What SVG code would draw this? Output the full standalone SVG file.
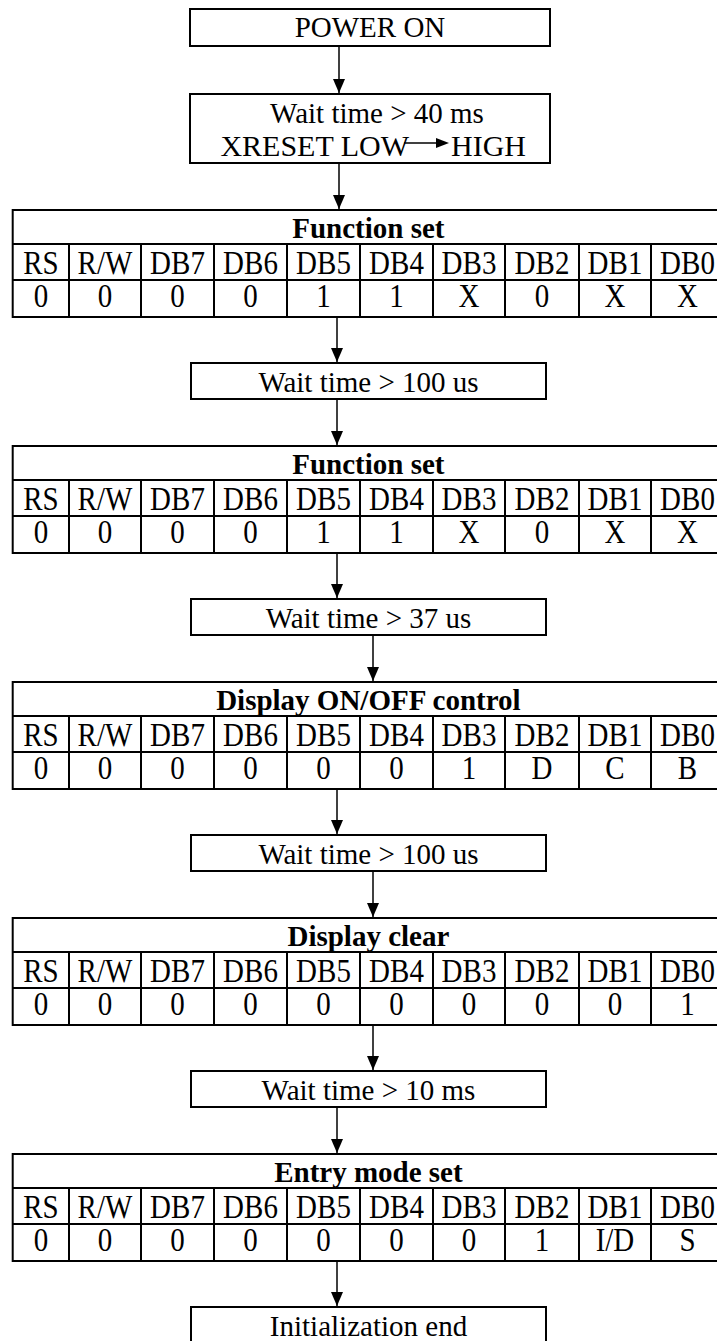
<svg xmlns="http://www.w3.org/2000/svg" width="717" height="1341" viewBox="0 0 717 1341">
<style>
.box{fill:#fff;stroke:#000;stroke-width:2}
.grid{fill:none;stroke:#000;stroke-width:2}
.t{font-family:"Liberation Serif","Times New Roman",serif;font-size:29px;fill:#000;text-anchor:middle}
.b{font-weight:bold}
.s{text-anchor:start}
.e{text-anchor:end}
.con{stroke:#000;stroke-width:1.5;fill:none}
</style>
<defs>
<marker id="ah" viewBox="0 0 14 12" refX="14" refY="6" markerWidth="14" markerHeight="12" markerUnits="userSpaceOnUse" orient="auto">
<path d="M0,0 L14,6 L0,12 z" fill="#000"/>
</marker>
<g id="hdr">
<g transform="translate(0,64) scale(1,1.15)">
<text class="t" x="40.9" y="0">RS</text><text class="t" x="105" y="0">R/W</text><text class="t" x="177.5" y="0">DB7</text><text class="t" x="250.5" y="0">DB6</text><text class="t" x="323.5" y="0">DB5</text><text class="t" x="396.5" y="0">DB4</text><text class="t" x="469" y="0">DB3</text><text class="t" x="542" y="0">DB2</text><text class="t" x="615" y="0">DB1</text><text class="t" x="687.5" y="0">DB0</text>
</g>
</g>
<g id="frame">
<rect class="box" x="12.7" y="0" width="711.3" height="107"/>
<path class="grid" d="M12.7,34H724M12.7,70H724M69,34V107M141,34V107M214,34V107M287,34V107M360,34V107M433,34V107M505,34V107M579,34V107M651,34V107"/>
</g>
</defs>

<g id="power-on">
<rect class="box" x="190" y="9" width="360" height="37"/>
<text class="t" x="370" y="37">POWER ON</text>
</g>

<g id="wait-40ms">
<rect class="box" x="190" y="94" width="360" height="69"/>
<text class="t" x="377" y="123">Wait time &gt; 40 ms</text>
<text class="t e" x="409" y="156" style="font-size:30px">XRESET LOW</text>
<line x1="404" y1="143" x2="438" y2="143" stroke="#000" stroke-width="1.5"/>
<path d="M436,138 L449,143 L436,148 z" fill="#000"/>
<text class="t s" x="451" y="156" style="font-size:30px">HIGH</text>
</g>

<g id="function-set-1" transform="translate(0,210)">
<use href="#frame"/>
<text class="t b" x="368.4" y="28">Function set</text>
<use href="#hdr"/>
<g transform="translate(0,97) scale(1,1.15)">
<text class="t" x="40.9" y="0">0</text><text class="t" x="105" y="0">0</text><text class="t" x="177.5" y="0">0</text><text class="t" x="250.5" y="0">0</text><text class="t" x="323.5" y="0">1</text><text class="t" x="396.5" y="0">1</text><text class="t" x="469" y="0">X</text><text class="t" x="542" y="0">0</text><text class="t" x="615" y="0">X</text><text class="t" x="687.5" y="0">X</text>
</g>
</g>

<g id="wait-100us-1">
<rect class="box" x="191" y="363" width="355" height="36"/>
<text class="t" x="368.5" y="392">Wait time &gt; 100 us</text>
</g>

<g id="function-set-2" transform="translate(0,446)">
<use href="#frame"/>
<text class="t b" x="368.4" y="28">Function set</text>
<use href="#hdr"/>
<g transform="translate(0,97) scale(1,1.15)">
<text class="t" x="40.9" y="0">0</text><text class="t" x="105" y="0">0</text><text class="t" x="177.5" y="0">0</text><text class="t" x="250.5" y="0">0</text><text class="t" x="323.5" y="0">1</text><text class="t" x="396.5" y="0">1</text><text class="t" x="469" y="0">X</text><text class="t" x="542" y="0">0</text><text class="t" x="615" y="0">X</text><text class="t" x="687.5" y="0">X</text>
</g>
</g>

<g id="wait-37us">
<rect class="box" x="191" y="599" width="355" height="36"/>
<text class="t" x="368.5" y="628">Wait time &gt; 37 us</text>
</g>

<g id="display-on-off" transform="translate(0,682)">
<use href="#frame"/>
<text class="t b" x="368.4" y="28">Display ON/OFF control</text>
<use href="#hdr"/>
<g transform="translate(0,97) scale(1,1.15)">
<text class="t" x="40.9" y="0">0</text><text class="t" x="105" y="0">0</text><text class="t" x="177.5" y="0">0</text><text class="t" x="250.5" y="0">0</text><text class="t" x="323.5" y="0">0</text><text class="t" x="396.5" y="0">0</text><text class="t" x="469" y="0">1</text><text class="t" x="542" y="0">D</text><text class="t" x="615" y="0">C</text><text class="t" x="687.5" y="0">B</text>
</g>
</g>

<g id="wait-100us-2">
<rect class="box" x="191" y="835" width="355" height="36"/>
<text class="t" x="368.5" y="864">Wait time &gt; 100 us</text>
</g>

<g id="display-clear" transform="translate(0,918)">
<use href="#frame"/>
<text class="t b" x="368.4" y="28">Display clear</text>
<use href="#hdr"/>
<g transform="translate(0,97) scale(1,1.15)">
<text class="t" x="40.9" y="0">0</text><text class="t" x="105" y="0">0</text><text class="t" x="177.5" y="0">0</text><text class="t" x="250.5" y="0">0</text><text class="t" x="323.5" y="0">0</text><text class="t" x="396.5" y="0">0</text><text class="t" x="469" y="0">0</text><text class="t" x="542" y="0">0</text><text class="t" x="615" y="0">0</text><text class="t" x="687.5" y="0">1</text>
</g>
</g>

<g id="wait-10ms">
<rect class="box" x="191" y="1071" width="355" height="36"/>
<text class="t" x="368.5" y="1100">Wait time &gt; 10 ms</text>
</g>

<g id="entry-mode-set" transform="translate(0,1154)">
<use href="#frame"/>
<text class="t b" x="368.4" y="28">Entry mode set</text>
<use href="#hdr"/>
<g transform="translate(0,97) scale(1,1.15)">
<text class="t" x="40.9" y="0">0</text><text class="t" x="105" y="0">0</text><text class="t" x="177.5" y="0">0</text><text class="t" x="250.5" y="0">0</text><text class="t" x="323.5" y="0">0</text><text class="t" x="396.5" y="0">0</text><text class="t" x="469" y="0">0</text><text class="t" x="542" y="0">1</text><text class="t" x="615" y="0">I/D</text><text class="t" x="687.5" y="0">S</text>
</g>
</g>

<g id="init-end">
<rect class="box" x="191" y="1307" width="355" height="36"/>
<text class="t" x="368.5" y="1336">Initialization end</text>
</g>

<g id="connectors">
<line class="con" x1="339" y1="46" x2="339" y2="93" marker-end="url(#ah)"/>
<line class="con" x1="339" y1="163" x2="339" y2="209" marker-end="url(#ah)"/>
<line class="con" x1="337" y1="317" x2="337" y2="362" marker-end="url(#ah)"/>
<line class="con" x1="337" y1="399" x2="337" y2="445" marker-end="url(#ah)"/>
<line class="con" x1="337" y1="553" x2="337" y2="598" marker-end="url(#ah)"/>
<line class="con" x1="373" y1="635" x2="373" y2="681" marker-end="url(#ah)"/>
<line class="con" x1="337" y1="789" x2="337" y2="834" marker-end="url(#ah)"/>
<line class="con" x1="373" y1="871" x2="373" y2="917" marker-end="url(#ah)"/>
<line class="con" x1="373" y1="1025" x2="373" y2="1070" marker-end="url(#ah)"/>
<line class="con" x1="337" y1="1107" x2="337" y2="1153" marker-end="url(#ah)"/>
<line class="con" x1="337" y1="1261" x2="337" y2="1306" marker-end="url(#ah)"/>
</g>
</svg>
